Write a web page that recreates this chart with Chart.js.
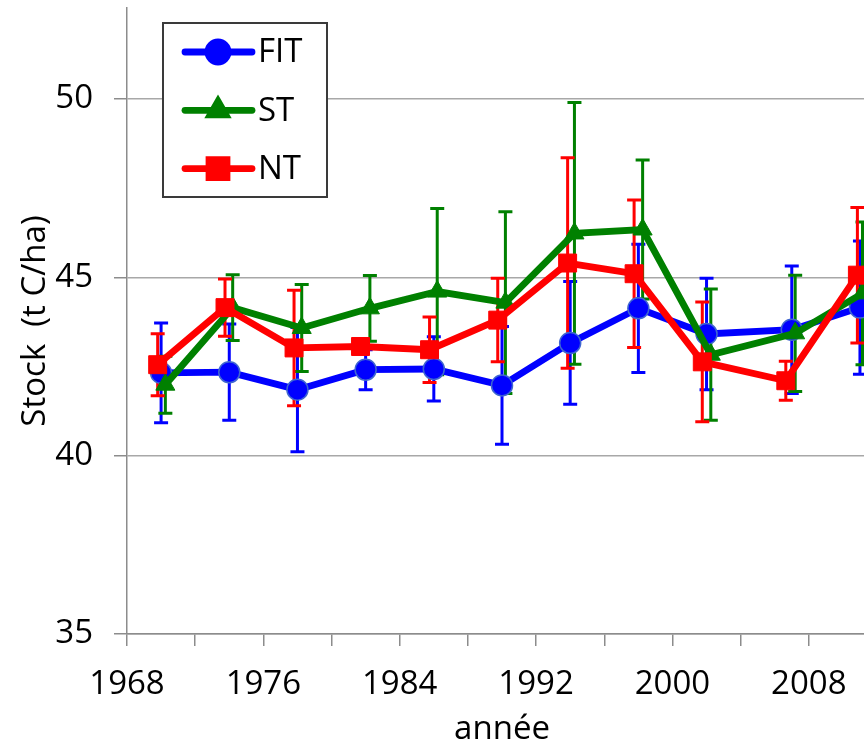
<!DOCTYPE html>
<html>
<head>
<meta charset="utf-8">
<title>Stock de carbone</title>
<script src="https://cdn.jsdelivr.net/npm/chart.js@4.4.1/dist/chart.umd.min.js"></script>
<style>
  html, body { margin: 0; padding: 0; background: #ffffff; overflow: hidden; }
  #wrap { width: 880px; height: 743px; }
  canvas { display: block; }
</style>
</head>
<body>
<div id="wrap"><canvas id="chart" width="880" height="743"></canvas></div>
<script>
// Carbon stock (t C/ha) per sampling campaign, mean and error for each treatment
const seriesNames = ['FIT', 'ST', 'NT'];

const fitYears = [1970, 1974, 1978, 1982, 1986, 1990, 1994, 1998, 2002, 2007, 2011];
const fitStock = [42.32, 42.34, 41.85, 42.41, 42.43, 41.97, 43.16, 44.13, 43.41, 43.53, 44.15];
const fitError = [1.40, 1.35, 1.74, 0.56, 0.90, 1.65, 1.72, 1.80, 1.56, 1.79, 1.87];

const stYears = [1970.25, 1974.2, 1978.25, 1982.25, 1986.2, 1990.2, 1994.25, 1998.25, 2002.25, 2007.2, 2011.15];
const stStock = [41.99, 44.15, 43.58, 44.13, 44.60, 44.29, 46.23, 46.34, 42.83, 43.43, 44.55];
const stError = [0.80, 0.92, 1.22, 0.92, 2.33, 2.55, 3.67, 1.95, 1.84, 1.63, 2.00];

const ntYears = [1969.8, 1973.75, 1977.8, 1981.7, 1985.75, 1989.75, 1993.85, 1997.75, 2001.75, 2006.65, 2010.85];
const ntStock = [42.55, 44.15, 43.02, 43.06, 42.97, 43.80, 45.40, 45.10, 42.63, 42.10, 45.06];
const ntError = [0.87, 0.80, 1.62, 0.20, 0.92, 1.17, 2.95, 2.07, 1.68, 0.55, 1.90];

const xTickYears = [1968, 1972, 1976, 1980, 1984, 1988, 1992, 1996, 2000, 2004, 2008, 2012];
const xLabelYears = [1968, 1976, 1984, 1992, 2000, 2008];
const yTickValues = [35, 40, 45, 50];

const FONT = "'Open Sans', 'Liberation Sans', sans-serif";
const AXIS_GREY = '#8c8c8c';
const GRID_GREY = '#a8a8a8';

function toPoints(xs, ys, errs) {
  return xs.map((x, i) => ({ x: x, y: ys[i], err: errs[i] }));
}

// Vertical error bars with caps, painted beneath the lines and markers
const errorBars = {
  id: 'errorBars',
  beforeDatasetsDraw(chart) {
    const { ctx, scales: { x, y } } = chart;
    const cap = 7;
    ctx.save();
    chart.data.datasets.forEach(ds => {
      ctx.strokeStyle = ds.errorColor;
      ctx.lineWidth = 3;
      ctx.lineCap = 'butt';
      ds.data.forEach(p => {
        const px = x.getPixelForValue(p.x);
        const top = y.getPixelForValue(p.y + p.err);
        const bot = y.getPixelForValue(p.y - p.err);
        ctx.beginPath();
        ctx.moveTo(px, top); ctx.lineTo(px, bot);
        ctx.moveTo(px - cap, top); ctx.lineTo(px + cap, top);
        ctx.moveTo(px - cap, bot); ctx.lineTo(px + cap, bot);
        ctx.stroke();
      });
    });
    ctx.restore();
  }
};

// Boxed legend showing each series' line with its marker
const boxLegend = {
  id: 'boxLegend',
  afterDraw(chart, args, opts) {
    const { ctx } = chart;
    const b = opts.box;
    ctx.save();
    ctx.fillStyle = '#ffffff';
    ctx.fillRect(b.left, b.top, b.width, b.height);
    ctx.strokeStyle = '#3a3a3a';
    ctx.lineWidth = 2;
    ctx.strokeRect(b.left, b.top, b.width, b.height);
    chart.data.datasets.forEach((ds, i) => {
      const cy = b.top + opts.firstRow + i * opts.rowGap;
      ctx.strokeStyle = ds.borderColor;
      ctx.lineWidth = ds.borderWidth;
      ctx.lineCap = 'round';
      ctx.beginPath();
      ctx.moveTo(b.left + opts.lineStart, cy);
      ctx.lineTo(b.left + opts.lineEnd, cy);
      ctx.stroke();
      ctx.fillStyle = ds.pointBackgroundColor;
      ctx.strokeStyle = ds.pointBackgroundColor;
      Chart.helpers.drawPoint(ctx, {
        pointStyle: ds.pointStyle,
        radius: opts.markerRadius[i],
        borderWidth: 1,
        rotation: 0
      }, b.left + opts.markerX, cy);
      ctx.fillStyle = '#000000';
      ctx.font = '33px ' + FONT;
      ctx.textAlign = 'left';
      ctx.textBaseline = 'middle';
      ctx.fillText(ds.label, b.left + opts.textX, cy + 1);
    });
    ctx.restore();
  }
};

new Chart(document.getElementById('chart'), {
  type: 'line',
  data: {
    datasets: [
      {
        label: seriesNames[0],
        data: toPoints(fitYears, fitStock, fitError),
        borderColor: '#0000ff',
        errorColor: '#0000ff',
        borderWidth: 6.8,
        pointStyle: 'circle',
        pointRadius: 10.5,
        pointBackgroundColor: '#0000ff',
        pointBorderColor: '#3f66d0',
        pointBorderWidth: 1.5,
        order: 3
      },
      {
        label: seriesNames[1],
        data: toPoints(stYears, stStock, stError),
        borderColor: '#008000',
        errorColor: '#008000',
        borderWidth: 6.8,
        pointStyle: 'triangle',
        pointRadius: 11,
        pointBackgroundColor: '#008000',
        pointBorderColor: '#008000',
        pointBorderWidth: 1,
        order: 2
      },
      {
        label: seriesNames[2],
        data: toPoints(ntYears, ntStock, ntError),
        borderColor: '#ff0000',
        errorColor: '#ff0000',
        borderWidth: 6.8,
        pointStyle: 'rect',
        pointRadius: 12.7,
        pointBackgroundColor: '#ff0000',
        pointBorderColor: '#ff0000',
        pointBorderWidth: 1,
        order: 1
      }
    ]
  },
  options: {
    responsive: false,
    animation: false,
    clip: false,
    layout: { autoPadding: false, padding: { left: 0, right: 3, top: 8, bottom: 0 } },
    elements: { line: { tension: 0 } },
    plugins: {
      legend: { display: false },
      tooltip: { enabled: false },
      boxLegend: {
        box: { left: 163, top: 23, width: 164, height: 174 },
        firstRow: 29, rowGap: 58.3,
        lineStart: 22, lineEnd: 89, markerX: 55, textX: 95,
        markerRadius: [10, 9, 12.7]
      }
    },
    scales: {
      x: {
        type: 'linear',
        min: 1968,
        max: 2012,
        afterFit(scale) {
          scale.height = 109;
          scale.paddingLeft = 0;
          scale.paddingRight = 0;
        },
        afterBuildTicks(scale) { scale.ticks = xTickYears.map(v => ({ value: v })); },
        ticks: {
          autoSkip: false,
          maxRotation: 0,
          padding: 19,
          color: '#000000',
          font: { family: FONT, size: 33 },
          callback: v => (xLabelYears.includes(v) ? String(v) : '')
        },
        grid: {
          drawOnChartArea: false,
          drawTicks: true,
          tickLength: 12,
          tickColor: AXIS_GREY,
          lineWidth: 1.5
        },
        border: { display: true, color: AXIS_GREY, width: 1.5 },
        title: {
          display: true,
          text: 'année',
          color: '#000000',
          font: { family: FONT, size: 33 },
          padding: { top: 0, bottom: -6 }
        }
      },
      y: {
        type: 'linear',
        min: 35,
        max: 52.55,
        afterFit(scale) {
          scale.width = 127;
          scale.paddingTop = 0;
          scale.paddingBottom = 0;
        },
        afterBuildTicks(scale) { scale.ticks = yTickValues.map(v => ({ value: v })); },
        ticks: {
          padding: 21,
          color: '#000000',
          font: { family: FONT, size: 33 },
          callback: v => String(v)
        },
        grid: {
          color: GRID_GREY,
          lineWidth: 1.5,
          drawTicks: true,
          tickLength: 13,
          tickColor: AXIS_GREY
        },
        border: { display: true, color: AXIS_GREY, width: 1.5 },
        title: {
          display: true,
          text: 'Stock  (t C/ha)',
          color: '#000000',
          font: { family: FONT, size: 33 },
          padding: { top: 16, bottom: 0 }
        }
      }
    }
  },
  plugins: [errorBars, boxLegend]
});
</script>
</body>
</html>
